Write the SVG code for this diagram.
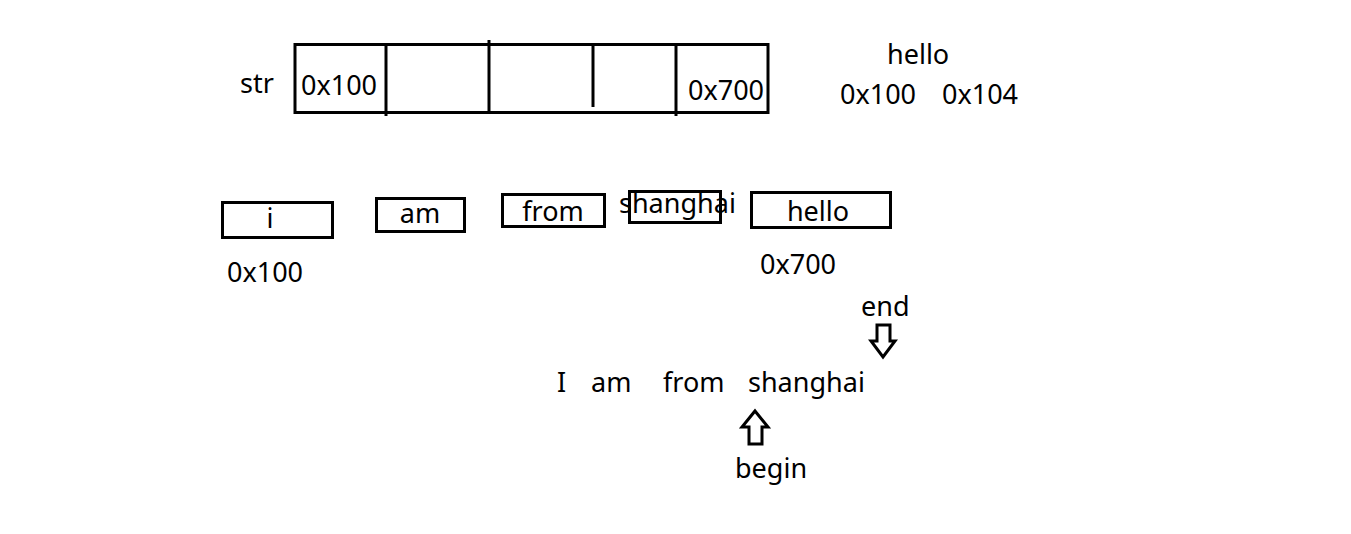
<svg xmlns="http://www.w3.org/2000/svg" width="1351" height="534" viewBox="0 0 1351 534">
<style>
text{font-family:"Noto Sans","Open Sans","DejaVu Sans",sans-serif;font-size:27px;fill:#000}
.box{fill:none;stroke:#000;stroke-width:3}
.ln{stroke:#000;stroke-width:3}
.arr{fill:#fff;stroke:#000;stroke-width:3;stroke-linejoin:miter}
</style>
<rect width="1351" height="534" fill="#fff"/>
<g id="str-array">
<text x="240" y="93">str</text>
<rect class="box" x="295" y="44.5" width="473" height="68"/>
<line class="ln" x1="386" y1="44" x2="386" y2="116"/>
<line class="ln" x1="489" y1="40" x2="489" y2="112"/>
<line class="ln" x1="593" y1="44" x2="593" y2="107"/>
<line class="ln" x1="676" y1="44" x2="676" y2="116"/>
<text x="301" y="95">0x100</text>
<text x="688" y="100">0x700</text>
</g>
<g id="hello-addr">
<text x="887" y="64">hello</text>
<text x="840" y="104">0x100</text>
<text x="942" y="104">0x104</text>
</g>
<g id="node-i">
<rect class="box" x="222.5" y="202.5" width="110" height="35"/>
<text x="270" y="228" text-anchor="middle">i</text>
</g>
<g id="node-am">
<rect class="box" x="376.5" y="198.5" width="88" height="33"/>
<text x="420" y="223" text-anchor="middle">am</text>
</g>
<g id="node-from">
<rect class="box" x="502.5" y="194.5" width="102" height="32"/>
<text x="553" y="221" text-anchor="middle">from</text>
</g>
<g id="node-shanghai">
<rect class="box" x="629.5" y="191.5" width="91" height="31"/>
<text x="619" y="213">shanghai</text>
</g>
<g id="node-hello">
<rect class="box" x="751.5" y="192.5" width="139" height="35"/>
<text x="818" y="221" text-anchor="middle">hello</text>
</g>
<g id="labels">
<text x="227" y="282">0x100</text>
<text x="760" y="274">0x700</text>
</g>
<g id="sentence">
<text x="557" y="392">I</text>
<text x="591" y="392">am</text>
<text x="663" y="392">from</text>
<text x="748" y="392">shanghai</text>
</g>
<g id="end-ptr">
<text x="861" y="316">end</text>
<polygon class="arr" points="877,325 890,325 890,341 895,341 883,357 871,341 877,341"/>
</g>
<g id="begin-ptr">
<text x="735" y="478">begin</text>
<polygon class="arr" points="755,411 768,427 762,427 762,444 749,444 749,427 742,427"/>
</g>
</svg>
